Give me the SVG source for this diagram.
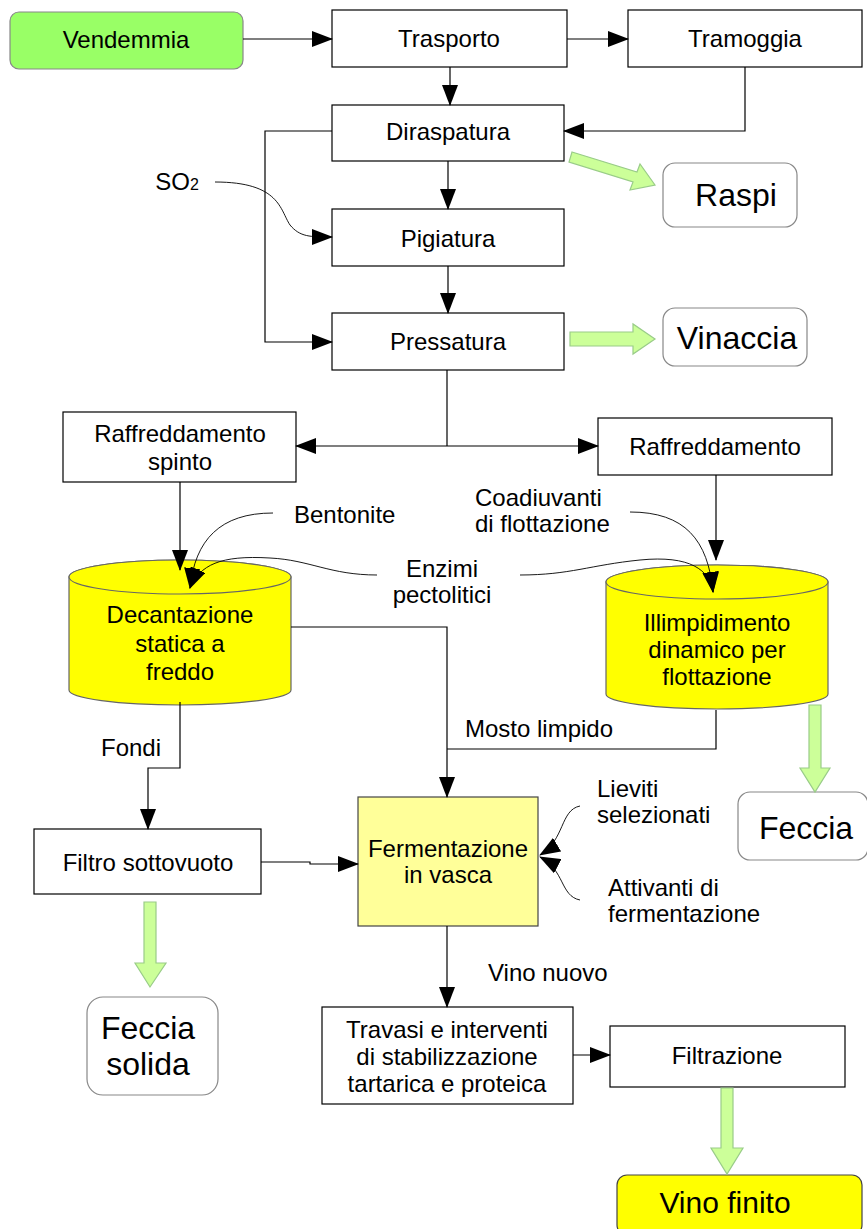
<svg xmlns="http://www.w3.org/2000/svg" width="867" height="1229" viewBox="0 0 867 1229">
<defs>
<style>
text{font-family:"Liberation Sans",Arial,sans-serif;fill:#000;text-anchor:middle;font-size:24px}
.b{fill:#fff;stroke:#000;stroke-width:1.2}
.r{fill:#fff;stroke:#888;stroke-width:1.2}
.l{fill:none;stroke:#000;stroke-width:1.2}
.c{fill:none;stroke:#000;stroke-width:0.9}
.g{fill:#ccff99;stroke:#99cc88;stroke-width:1.2}
.cy{fill:#ffff00;stroke:#666;stroke-width:1.2}
.t28{font-size:32px}
.lab{text-anchor:start}
</style>
<marker id="a" markerUnits="userSpaceOnUse" markerWidth="22" markerHeight="16" refX="20" refY="8" orient="auto"><path d="M0,0 L21,8 L0,16 Z" fill="#000"/></marker>
</defs>
<g id="vendemmia"><rect x="10" y="12" width="233" height="57" rx="9" fill="#99ff66" stroke="#888" stroke-width="1.2"/><text x="126" y="48">Vendemmia</text></g>
<g id="trasporto"><rect class="b" x="332" y="10" width="235" height="57"/><text x="449" y="47">Trasporto</text></g>
<g id="tramoggia"><rect class="b" x="628" y="10" width="234" height="57"/><text x="745" y="47">Tramoggia</text></g>
<g id="diraspatura"><rect class="b" x="332" y="105" width="232" height="56"/><text x="448" y="140">Diraspatura</text></g>
<g id="pigiatura"><rect class="b" x="332" y="209" width="232" height="57"/><text x="448" y="247">Pigiatura</text></g>
<g id="pressatura"><rect class="b" x="332" y="313" width="232" height="57"/><text x="448" y="350">Pressatura</text></g>
<g id="raspi"><rect class="r" x="663" y="163" width="134" height="64" rx="12"/><text class="t28" x="736" y="206">Raspi</text></g>
<g id="vinaccia"><rect class="r" x="663" y="308" width="144" height="58" rx="12"/><text class="t28" x="737" y="349">Vinaccia</text></g>
<g id="so2"><text x="177" y="190">SO<tspan style="font-size:16px">2</tspan></text></g>
<g id="raffreddamento-spinto"><rect class="b" x="63" y="412" width="233" height="70"/><text x="180" y="442">Raffreddamento</text><text x="180" y="470">spinto</text></g>
<g id="raffreddamento"><rect class="b" x="598" y="418" width="234" height="57"/><text x="715" y="455">Raffreddamento</text></g>
<g id="decantazione"><path class="cy" d="M69,577 L69,690 A111,15 0 0 0 291,690 L291,577 A111,17 0 0 0 69,577 Z"/><ellipse class="cy" cx="180" cy="577" rx="111" ry="17"/><text x="180" y="623">Decantazione</text><text x="180" y="652">statica a</text><text x="180" y="680">freddo</text></g>
<g id="illimpidimento"><path class="cy" d="M606,582 L606,694 A111,15 0 0 0 828,694 L828,582 A111,17 0 0 0 606,582 Z"/><ellipse class="cy" cx="717" cy="582" rx="111" ry="17"/><text x="717" y="631">Illimpidimento</text><text x="717" y="658">dinamico per</text><text x="717" y="685">flottazione</text></g>
<g id="bentonite"><text class="lab" x="294" y="523">Bentonite</text></g>
<g id="enzimi"><text x="442" y="577">Enzimi</text><text x="442" y="603">pectolitici</text></g>
<g id="coadiuvanti"><text class="lab" x="475" y="506">Coadiuvanti</text><text class="lab" x="475" y="532">di flottazione</text></g>
<g id="mosto"><text class="lab" x="465" y="737">Mosto limpido</text></g>
<g id="fondi"><text class="lab" x="101" y="756">Fondi</text></g>
<g id="filtro"><rect class="b" x="34" y="829" width="227" height="65"/><text x="148" y="871">Filtro sottovuoto</text></g>
<g id="fermentazione"><rect x="358" y="797" width="180" height="129" fill="#ffff99" stroke="#444" stroke-width="1.2"/><text x="448" y="857">Fermentazione</text><text x="448" y="883">in vasca</text></g>
<g id="lieviti"><text class="lab" x="597" y="797">Lieviti</text><text class="lab" x="597" y="823">selezionati</text></g>
<g id="attivanti"><text class="lab" x="608" y="896">Attivanti di</text><text class="lab" x="608" y="922">fermentazione</text></g>
<g id="feccia"><rect class="r" x="738" y="792" width="130" height="68" rx="12"/><text class="t28" x="806" y="839">Feccia</text></g>
<g id="feccia-solida"><rect class="r" x="87" y="997" width="131" height="98" rx="16"/><text class="t28" x="148" y="1039">Feccia</text><text class="t28" x="148" y="1075">solida</text></g>
<g id="vino-nuovo"><text class="lab" x="488" y="981">Vino nuovo</text></g>
<g id="travasi"><rect class="b" x="322" y="1007" width="251" height="97"/><text x="447" y="1038">Travasi e interventi</text><text x="447" y="1065">di stabilizzazione</text><text x="447" y="1092">tartarica e proteica</text></g>
<g id="filtrazione"><rect class="b" x="610" y="1026" width="235" height="61"/><text x="727" y="1064">Filtrazione</text></g>
<g id="vino-finito"><rect x="617" y="1175" width="245" height="60" rx="10" fill="#ffff00" stroke="#444" stroke-width="1.2"/><text x="725" y="1213" style="font-size:30px">Vino finito</text></g>
<g id="connectors">
<path class="l" d="M243,39 L332,39" marker-end="url(#a)"/>
<path class="l" d="M567,39 L628,39" marker-end="url(#a)"/>
<path class="l" d="M450,67 L450,105" marker-end="url(#a)"/>
<path class="l" d="M745,67 L745,131 L564,131" marker-end="url(#a)"/>
<path class="l" d="M332,131 L265,131 L265,342 L332,342" marker-end="url(#a)"/>
<path class="c" d="M215,182 C280,182 280,210 290,225 C300,237 310,237 332,237" marker-end="url(#a)"/>
<path class="l" d="M448,161 L448,209" marker-end="url(#a)"/>
<path class="l" d="M448,266 L448,313" marker-end="url(#a)"/>
<path class="l" d="M447,370 L447,446"/>
<path class="l" d="M447,446 L296,446" marker-end="url(#a)"/>
<path class="l" d="M447,446 L598,446" marker-end="url(#a)"/>
<path class="l" d="M180,482 L180,570" marker-end="url(#a)"/>
<path class="l" d="M716,475 L716,560" marker-end="url(#a)"/>
<path class="c" d="M273,513 C220,513 195,540 190,588" marker-end="url(#a)"/>
<path class="c" d="M377,575 C330,575 310,560 270,558 C220,555 200,565 190,588" marker-end="url(#a)"/>
<path class="c" d="M520,575 C570,575 590,565 640,560 C690,555 710,570 713,592" marker-end="url(#a)"/>
<path class="c" d="M630,512 C685,512 708,540 713,592" marker-end="url(#a)"/>
<path class="l" d="M291,627 L447,627 L447,797" marker-end="url(#a)"/>
<path class="l" d="M716,710 L716,749 L447,749"/>
<path class="l" d="M180,702 L180,768 L148,768 L148,829" marker-end="url(#a)"/>
<path class="l" d="M261,862 L310,862 L310,864 L358,864" marker-end="url(#a)"/>
<path class="c" d="M580,806 C560,810 565,840 540,855" marker-end="url(#a)"/>
<path class="c" d="M580,900 C560,896 565,870 540,857" marker-end="url(#a)"/>
<path class="l" d="M447,926 L447,1007" marker-end="url(#a)"/>
<path class="l" d="M573,1055 L610,1055" marker-end="url(#a)"/>
<path class="g" d="M572,152 L637,172 L640,164 L655,185 L630,190 L633,182 L569,162 Z"/>
<path class="g" d="M570,332 L633,332 L633,324 L655,339 L633,354 L633,346 L570,346 Z"/>
<path class="g" d="M809,705 L821,705 L821,768 L830,768 L815,792 L800,768 L809,768 Z"/>
<path class="g" d="M144,902 L156,902 L156,963 L166,963 L150,987 L135,963 L144,963 Z"/>
<path class="g" d="M721,1088 L733,1088 L733,1148 L743,1148 L727,1174 L711,1148 L721,1148 Z"/>
</g>
</svg>
